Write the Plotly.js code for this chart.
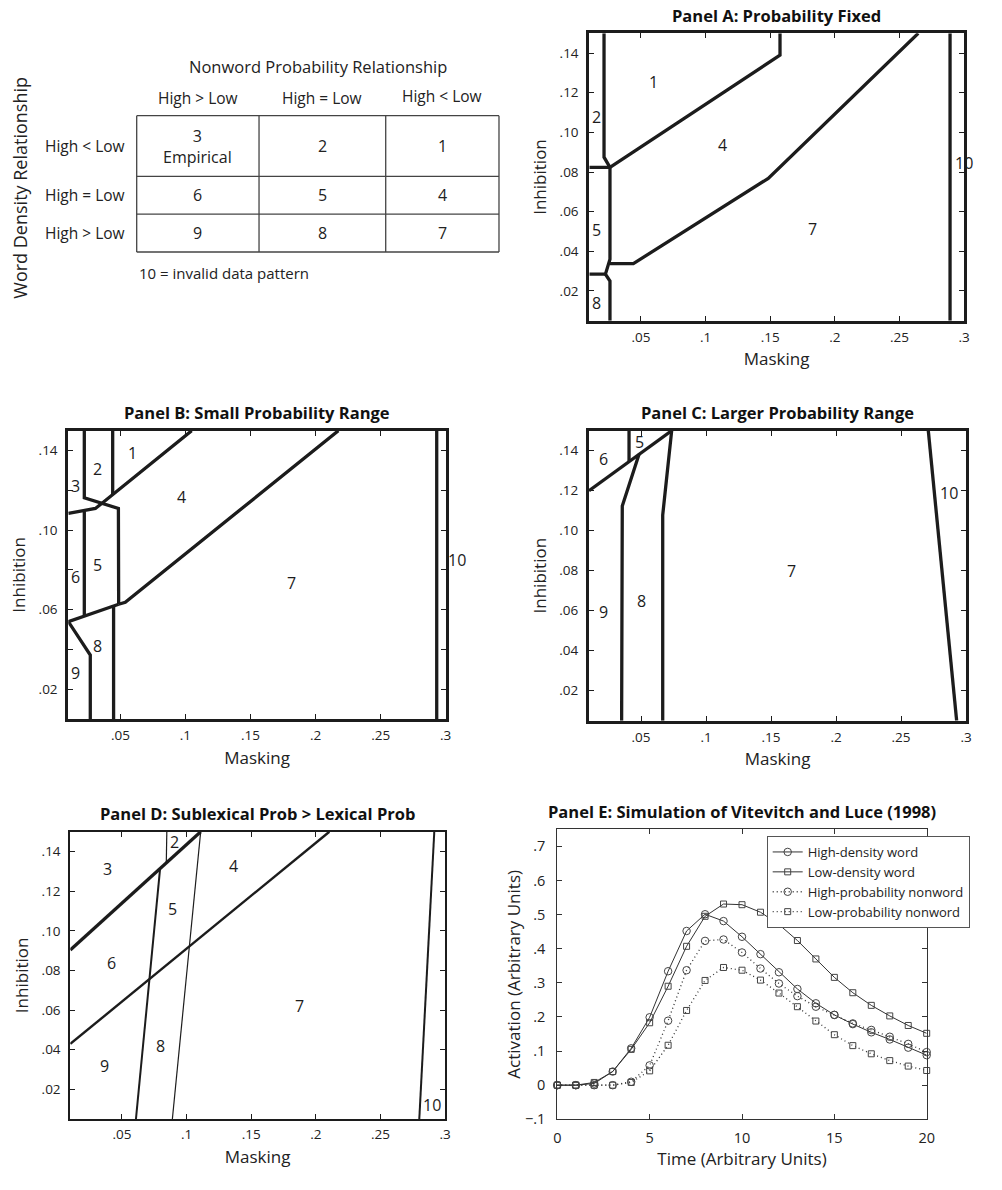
<!DOCTYPE html>
<html><head><meta charset="utf-8">
<script src="https://cdn.plot.ly/plotly-3.0.1.min.js"></script>
<style>html,body{margin:0;padding:0;background:#fff}#chart{width:1002px;height:1190px}</style>
</head><body><div id="chart"></div>
<script>
// ---------- Table (top-left) ----------
const tableTitleTop = 'Nonword Probability Relationship';
const tableTitleSide = 'Word Density Relationship';
const tableColHeaders = ['High &gt; Low', 'High = Low', 'High &lt; Low'];
const tableRowHeaders = ['High &lt; Low', 'High = Low', 'High &gt; Low'];
const tableCells = [
  ['3<br>Empirical', '2', '1'],
  ['6', '5', '4'],
  ['9', '8', '7']
];
const tableNote = '10 = invalid data pattern';

// ---------- Panel A: Probability Fixed (region boundaries, masking x inhibition) ----------
const aLinesX = [
  [0.0214, 0.0214, 0.026],
  [0.01, 0.026],
  [0.026, 0.026, 0.0225, 0.026, 0.026],
  [0.01, 0.0225],
  [0.026, 0.1576, 0.1576],
  [0.026, 0.0441, 0.1485, 0.2646],
  [0.2892, 0.2892]
];
const aLinesY = [
  [0.15, 0.0875, 0.0824],
  [0.0824, 0.0824],
  [0.0824, 0.036, 0.0285, 0.025, 0.005],
  [0.0285, 0.0285],
  [0.0824, 0.139, 0.15],
  [0.0338, 0.0338, 0.0768, 0.15],
  [0.005, 0.15]
];
const aLabels = ['1', '2', '4', '5', '7', '8', '10'];
const aLabelX = [0.0595, 0.0152, 0.1132, 0.0152, 0.1829, 0.0152, 0.300];
const aLabelY = [0.1256, 0.1076, 0.0936, 0.0508, 0.0511, 0.0141, 0.0847];

// ---------- Panel B: Small Probability Range ----------
const bLinesX = [
  [0.0223, 0.0223, 0.0485, 0.0487],
  [0.0441, 0.0441],
  [0.01, 0.0308, 0.0359, 0.1048],
  [0.0223, 0.0223],
  [0.0487, 0.0538, 0.2175],
  [0.01, 0.0474, 0.0487],
  [0.0448, 0.0448],
  [0.01, 0.0269, 0.0269],
  [0.2931, 0.2931]
];
const bLinesY = [
  [0.15, 0.1163, 0.1109, 0.0627],
  [0.15, 0.118],
  [0.1084, 0.1109, 0.1135, 0.15],
  [0.1095, 0.0573],
  [0.0627, 0.0637, 0.15],
  [0.054, 0.0623, 0.0627],
  [0.0623, 0.005],
  [0.054, 0.0372, 0.005],
  [0.005, 0.15]
];
const bLabels = ['1', '2', '3', '4', '5', '6', '7', '8', '9'];
const bLabelX = [0.0594, 0.0323, 0.0159, 0.0971, 0.0323, 0.0159, 0.1817, 0.0323, 0.0159];
const bLabelY = [0.1389, 0.1306, 0.1222, 0.1168, 0.0825, 0.0766, 0.0732, 0.0417, 0.028];
const bOutsideLabel = '10';
const bOutsideLabelY = 0.085;

// ---------- Panel C: Larger Probability Range ----------
const cLinesX = [
  [0.01, 0.0736],
  [0.0408, 0.0408],
  [0.0485, 0.0356, 0.0351],
  [0.0736, 0.0667, 0.0667],
  [0.271, 0.2928]
];
const cLinesY = [
  [0.12, 0.15],
  [0.15, 0.1345],
  [0.1382, 0.1123, 0.005],
  [0.15, 0.1078, 0.005],
  [0.15, 0.005]
];
const cLabels = ['5', '6', '10', '7', '8', '9'];
const cLabelX = [0.0485, 0.0215, 0.2872, 0.1659, 0.0505, 0.0215];
const cLabelY = [0.1442, 0.1357, 0.119, 0.08, 0.0648, 0.0595];

// ---------- Panel D: Sublexical Prob > Lexical Prob ----------
const dLinesX = [
  [0.01, 0.1109],
  [0.01, 0.2105],
  [0.0608, 0.0794],
  [0.0847, 0.0843],
  [0.1109, 0.089],
  [0.2917, 0.2801]
];
const dLinesY = [
  [0.0903, 0.15],
  [0.0429, 0.15],
  [0.005, 0.1307],
  [0.15, 0.1344],
  [0.15, 0.005],
  [0.15, 0.005]
];
const dLineWidths = [3.2, 2.4, 2, 1.2, 1.2, 2];
const dLabels = ['2', '3', '4', '5', '6', '7', '8', '9', '10'];
const dLabelX = [0.091, 0.0386, 0.1362, 0.0892, 0.042, 0.1872, 0.0799, 0.0368, 0.2897];
const dLabelY = [0.145, 0.131, 0.1327, 0.1108, 0.0839, 0.0622, 0.0418, 0.0317, 0.0121];

// ---------- Panel E: Simulation of Vitevitch and Luce (1998) ----------
const time = [0,1,2,3,4,5,6,7,8,9,10,11,12,13,14,15,16,17,18,19,20];
const hdWord    = [0,0,0.005,0.040,0.108,0.199,0.334,0.452,0.501,0.481,0.435,0.384,0.331,0.282,0.240,0.206,0.179,0.155,0.134,0.110,0.088];
const ldWord    = [0,0,0.008,0.040,0.105,0.183,0.290,0.407,0.495,0.531,0.529,0.507,0.471,0.424,0.370,0.316,0.271,0.234,0.203,0.175,0.152];
const hpNonword = [0,0,0,0,0.010,0.058,0.189,0.337,0.423,0.427,0.389,0.342,0.298,0.261,0.230,0.206,0.181,0.162,0.142,0.121,0.097];
const lpNonword = [0,0,0,0,0.008,0.042,0.117,0.219,0.307,0.345,0.337,0.308,0.270,0.230,0.188,0.148,0.116,0.092,0.072,0.056,0.043];
const seriesNames = ['High-density word', 'Low-density word', 'High-probability nonword', 'Low-probability nonword'];

// ---------- Axis ticks ----------
const maskTicks = [0.05, 0.1, 0.15, 0.2, 0.25, 0.3];
const maskTickText = ['.05', '.1', '.15', '.2', '.25', '.3'];
const inhTicks = [0.02, 0.04, 0.06, 0.08, 0.10, 0.12, 0.14];
const inhTickText = ['.02', '.04', '.06', '.08', '.10', '.12', '.14'];
const inhTickTextB = ['.02', '', '.06', '', '.10', '', '.14'];
const timeTicks = [0, 5, 10, 15, 20];
const actTicks = [-0.1, 0, 0.1, 0.2, 0.3, 0.4, 0.5, 0.6, 0.7];
const actTickText = ['\u2212.1', '0', '.1', '.2', '.3', '.4', '.5', '.6', '.7'];

// ================= build =================
const FONT = 'Open Sans, Noto Sans, sans-serif';
const INK = '#1c1c1c';
const W = 1002, H = 1190;
const traces = [];
const annotations = [];
const shapes = [];

function addRegionLines(xs, ys, xa, ya, widths) {
  for (let i = 0; i < xs.length; i++) {
    traces.push({
      type: 'scatter', mode: 'lines', x: xs[i], y: ys[i], xaxis: xa, yaxis: ya,
      line: { color: INK, width: widths ? widths[i] : 3.3 },
      showlegend: false, hoverinfo: 'skip'
    });
  }
}
function addRegionLabels(labels, xs, ys, xref, yref) {
  for (let i = 0; i < labels.length; i++) {
    annotations.push({
      text: labels[i], x: xs[i], y: ys[i], xref: xref, yref: yref, xanchor: 'center', yanchor: 'middle',
      showarrow: false, font: { size: 16, color: INK, family: FONT }
    });
  }
}
function addTitle(text, xname, yname) {
  annotations.push({
    text: '<b>' + text + '</b>', x: 0.5, y: 1, xref: xname + ' domain', yref: yname + ' domain',
    xanchor: 'center', yanchor: 'middle', yshift: 18, showarrow: false,
    font: { size: 16.5, color: '#111', family: FONT }
  });
}
const dom = (a, b) => [a / W, b / W];
const domY = (top, bottom) => [1 - bottom / H, 1 - top / H];

function xAx(domain, anchor, lw, title) {
  return {
    domain: domain, anchor: anchor, range: [0.01, 0.3], tickvals: maskTicks, ticktext: maskTickText,
    ticks: 'inside', ticklen: 5, tickwidth: 1, tickcolor: INK, mirror: 'allticks', showline: true,
    linewidth: lw, linecolor: INK, showgrid: false, zeroline: false, automargin: false,
    tickfont: { size: 13.5, color: '#222', family: FONT }, ticklabelstandoff: 2,
    title: { text: title, font: { size: 17, color: '#222', family: FONT }, standoff: 9 }
  };
}
function yAx(domain, anchor, lw, ticktext) {
  return {
    domain: domain, anchor: anchor, range: [0.005, 0.15], tickvals: inhTicks, ticktext: ticktext,
    ticks: 'inside', ticklen: 5, tickwidth: 1, tickcolor: INK, mirror: 'allticks', showline: true,
    linewidth: lw, linecolor: INK, showgrid: false, zeroline: false, automargin: false,
    tickfont: { size: 13.5, color: '#222', family: FONT }, ticklabelstandoff: 5,
    title: { text: 'Inhibition', font: { size: 17, color: '#222', family: FONT }, standoff: 9 }
  };
}

// Panel A
addRegionLines(aLinesX, aLinesY, 'x', 'y');
addRegionLabels(aLabels, aLabelX, aLabelY, 'x', 'y');
addTitle('Panel A: Probability Fixed', 'x', 'y');
// Panel B
addRegionLines(bLinesX, bLinesY, 'x2', 'y2');
addRegionLabels(bLabels, bLabelX, bLabelY, 'x2', 'y2');
annotations.push({ text: bOutsideLabel, x: 1.029, y: bOutsideLabelY, xref: 'x2 domain', yref: 'y2',
  xanchor: 'center', yanchor: 'middle', showarrow: false, font: { size: 16, color: INK, family: FONT } });
addTitle('Panel B: Small Probability Range', 'x2', 'y2');
// Panel C
addRegionLines(cLinesX, cLinesY, 'x3', 'y3');
addRegionLabels(cLabels, cLabelX, cLabelY, 'x3', 'y3');
addTitle('Panel C: Larger Probability Range', 'x3', 'y3');
// Panel D
addRegionLines(dLinesX, dLinesY, 'x4', 'y4', dLineWidths);
addRegionLabels(dLabels, dLabelX, dLabelY, 'x4', 'y4');
addTitle('Panel D: Sublexical Prob &gt; Lexical Prob', 'x4', 'y4');
// Panel E
const eSeries = [hdWord, ldWord, hpNonword, lpNonword];
const eSymbols = ['circle-open', 'square-open', 'circle-open', 'square-open'];
const eDash = ['solid', 'solid', '1px,3px', '1px,3px'];
const eSizes = [7.5, 6, 7.5, 6];
for (let i = 0; i < 4; i++) {
  traces.push({
    type: 'scatter', mode: 'lines+markers', name: seriesNames[i], x: time, y: eSeries[i],
    xaxis: 'x5', yaxis: 'y5', cliponaxis: false,
    line: { color: '#333', width: i < 2 ? 1 : 1.3, dash: eDash[i] },
    marker: { symbol: eSymbols[i], size: eSizes[i], color: '#444', line: { width: 1, color: '#444' } }
  });
}
addTitle('Panel E: Simulation of Vitevitch and Luce (1998)', 'x5', 'y5');

// Table on hidden axes x6/y6 (units: columns / rows)
const colEdges = [0, 1.013, 2.062, 3.0];
const rowEdges = [0, 1.6, 2.6, 3.6];
for (const c of colEdges) shapes.push({ type: 'line', xref: 'x6', yref: 'y6', x0: c, x1: c, y0: 0, y1: 3.6, line: { color: '#444', width: 1.3 } });
for (const r of rowEdges) shapes.push({ type: 'line', xref: 'x6', yref: 'y6', x0: 0, x1: 3, y0: r, y1: r, line: { color: '#444', width: 1.3 } });
const tFont = { size: 15.5, color: '#222', family: FONT };
const headerY = [-0.47, -0.47, -0.53];
for (let c = 0; c < 3; c++) {
  const cx = (colEdges[c] + colEdges[c + 1]) / 2;
  annotations.push({ text: tableColHeaders[c], x: cx, y: headerY[c], xref: 'x6', yref: 'y6', showarrow: false, font: tFont });
  for (let r = 0; r < 3; r++) {
    const cy = (rowEdges[r] + rowEdges[r + 1]) / 2;
    annotations.push({ text: tableCells[r][c], x: cx, y: cy, xref: 'x6', yref: 'y6', showarrow: false, font: { size: 16, color: '#222', family: FONT } });
  }
}
for (let r = 0; r < 3; r++) {
  const cy = (rowEdges[r] + rowEdges[r + 1]) / 2;
  annotations.push({ text: tableRowHeaders[r], x: -0.43, y: cy, xref: 'x6', yref: 'y6', showarrow: false, font: tFont });
}
annotations.push({ text: tableTitleTop, x: 1.5, y: -1.29, xref: 'x6', yref: 'y6', showarrow: false, font: { size: 16.5, color: '#222', family: FONT } });
annotations.push({ text: tableNote, x: 0, y: 4.15, xref: 'x6', yref: 'y6', xanchor: 'left', showarrow: false, font: { size: 15, color: '#222', family: FONT } });
annotations.push({ text: tableTitleSide, x: -0.966, y: 1.9, xref: 'x6', yref: 'y6', textangle: -90, showarrow: false, font: { size: 18, color: '#222', family: FONT } });

const layout = {
  width: W, height: H, margin: { l: 0, r: 0, t: 0, b: 0 },
  paper_bgcolor: '#fff', plot_bgcolor: '#fff', font: { family: FONT, color: '#222' },
  showlegend: true,
  legend: {
    x: 766.7 / W, y: 1 - 836 / H, xanchor: 'left', yanchor: 'top', xref: 'paper', yref: 'paper',
    bgcolor: '#fff', bordercolor: '#555', borderwidth: 1, font: { size: 13, color: '#222', family: FONT },
    itemwidth: 30, tracegroupgap: 0
  },
  xaxis: xAx(dom(589.3, 964), 'y', 3, 'Masking'),
  yaxis: yAx(domY(33.3, 320.7), 'x', 3, inhTickText),
  xaxis2: xAx(dom(68.3, 445.7), 'y2', 3, 'Masking'),
  yaxis2: yAx(domY(430.7, 719), 'x2', 3, inhTickTextB),
  xaxis3: xAx(dom(589, 966), 'y3', 3, 'Masking'),
  yaxis3: yAx(domY(430.7, 720.7), 'x3', 3, inhTickText),
  xaxis4: xAx(dom(70.3, 445), 'y4', 2, 'Masking'),
  yaxis4: yAx(domY(831.7, 1119), 'x4', 2, inhTickText),
  xaxis5: {
    domain: dom(557.3, 926.7), anchor: 'y5', range: [0, 20], tickvals: timeTicks,
    ticks: 'inside', ticklen: 5, tickcolor: '#333', mirror: 'allticks', showline: true, linewidth: 1, linecolor: '#333',
    showgrid: false, zeroline: false, automargin: false, tickfont: { size: 14.5, color: '#222', family: FONT }, ticklabelstandoff: 5,
    title: { text: 'Time (Arbitrary Units)', font: { size: 17, color: '#222', family: FONT }, standoff: 5 }
  },
  yaxis5: {
    domain: domY(829.3, 1119.3), anchor: 'x5', range: [-0.1, 0.75], tickvals: actTicks, ticktext: actTickText,
    ticks: 'inside', ticklen: 5, tickcolor: '#333', mirror: 'allticks', showline: true, linewidth: 1, linecolor: '#333',
    showgrid: false, zeroline: false, automargin: false, tickfont: { size: 14.5, color: '#222', family: FONT }, ticklabelstandoff: 8,
    title: { text: 'Activation (Arbitrary Units)', font: { size: 17, color: '#222', family: FONT }, standoff: 0 }
  },
  // hidden axes that position the table
  xaxis6: { domain: dom(0, 520), anchor: 'y6', range: [-1.132, 3.174], visible: false, fixedrange: true },
  yaxis6: { domain: domY(40, 300), anchor: 'x6', range: [4.868, -2.0], visible: false, fixedrange: true },
  annotations: annotations,
  shapes: shapes
};

Plotly.newPlot('chart', traces, layout, { displayModeBar: false, staticPlot: true });
</script>
</body></html>
